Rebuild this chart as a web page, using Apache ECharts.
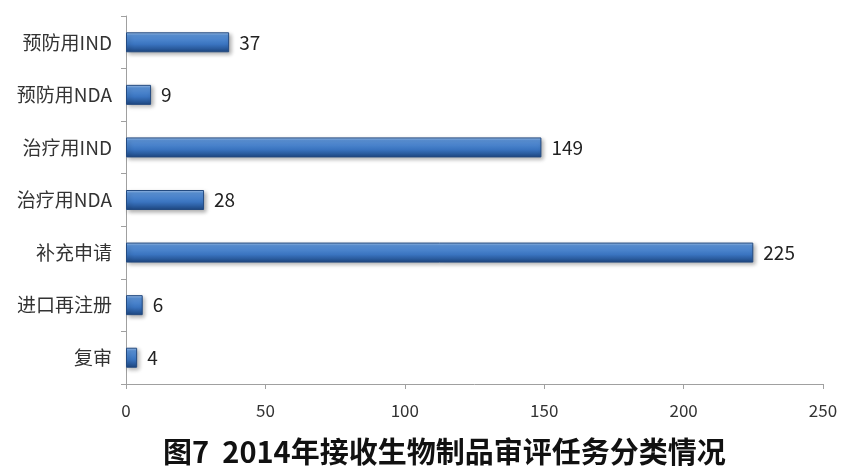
<!DOCTYPE html>
<html><head><meta charset="utf-8">
<script src="https://cdn.jsdelivr.net/npm/echarts@6/dist/echarts.min.js"></script>
<style>html,body{margin:0;padding:0;background:#fff}#c{width:843px;height:474px}</style>
</head><body><div id="c"></div>
<script>
const categories = ['预防用IND','预防用NDA','治疗用IND','治疗用NDA','补充申请','进口再注册','复审'];
const values = [37, 9, 149, 28, 225, 6, 4];
const xTicks = [0, 50, 100, 150, 200, 250];
const titleText = '图7  2014年接收生物制品审评任务分类情况';

const chart = echarts.init(document.getElementById('c'));
const font = '"Noto Sans CJK SC", "Noto Sans", sans-serif';
chart.setOption({
  animation: false,
  title: {
    text: titleText, left: 158, top: 432,
    textStyle: {fontFamily: font, fontSize: 29, fontWeight: 'bold', color: '#111'}
  },
  grid: {left: 126, right: 20, top: 16, bottom: 90, containLabel: false},
  xAxis: {
    type: 'value', min: xTicks[0], max: xTicks[xTicks.length-1], interval: 50,
    axisLine: {show: true, lineStyle: {color: '#a0a0a0'}},
    axisTick: {show: true, length: 5, lineStyle: {color: '#a0a0a0'}},
    splitLine: {show: false},
    axisLabel: {fontFamily: font, fontSize: 17, color: '#333', margin: 18}
  },
  yAxis: {
    type: 'category', inverse: true, data: categories,
    axisLine: {show: true, lineStyle: {color: '#a0a0a0'}},
    axisTick: {show: true, length: 5, lineStyle: {color: '#a0a0a0'}},
    axisLabel: {fontFamily: font, fontSize: 19, color: '#333', margin: 14}
  },
  series: [{
    type: 'bar', data: values, barWidth: 20,
    itemStyle: {
      color: new echarts.graphic.LinearGradient(0, 0, 0, 1, [
        {offset: 0, color: '#a9c8ee'},
        {offset: 0.15, color: '#5b93d8'},
        {offset: 0.6, color: '#3a74c0'},
        {offset: 1, color: '#1d4680'}
      ]),
      borderColor: '#234a80', borderWidth: 1,
      shadowColor: 'rgba(0,0,0,0.3)', shadowBlur: 4, shadowOffsetX: 2, shadowOffsetY: 2
    },
    label: {show: true, position: 'right', distance: 10, fontFamily: font, fontSize: 19, color: '#222'}
  }]
});
</script></body></html>
